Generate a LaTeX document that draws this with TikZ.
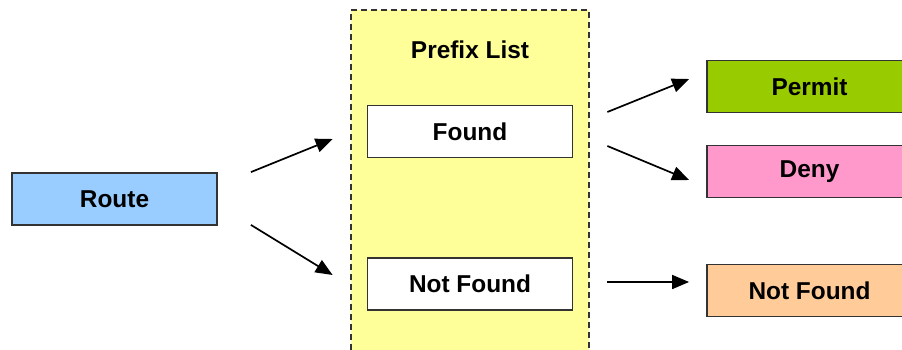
\documentclass[tikz,border=0pt]{standalone}
\usepackage{fontspec}
\setmainfont{Liberation Sans}
\usetikzlibrary{arrows.meta}
\definecolor{routeblue}{HTML}{99CCFF}
\definecolor{listyellow}{HTML}{FFFF99}
\definecolor{permitgreen}{HTML}{99CC00}
\definecolor{denypink}{HTML}{FF99CC}
\definecolor{nfpeach}{HTML}{FFCC99}
\definecolor{boxline}{HTML}{333333}
\tikzset{
    boxnode/.style={draw=boxline,line width=1.8bp,minimum width=205bp,minimum height=52bp,inner sep=0pt,font=\fontsize{24.5}{28}\selectfont\bfseries},
    flow/.style={line width=1.7bp,-{Triangle[length=17bp,width=14bp]}}
}
\begin{document}
\begin{tikzpicture}[x=1bp,y=-1bp]
        \useasboundingbox (0,0) rectangle (902,349);
        \clip (0,0) rectangle (902,349);
        \fill[white] (0,0) rectangle (902,349);
        \node[draw=boxline,dash pattern=on 6bp off 4bp,line width=1.8bp,fill=listyellow,minimum width=238bp,minimum height=350bp,inner sep=0pt] (plist) at (470,185) {};
        \node[font=\fontsize{24.5}{28}\selectfont\bfseries] (ptitle) at (470,50) {Prefix List};
        \node[boxnode,fill=routeblue] (route) at (114.5,199) {Route};
        \node[boxnode,fill=white] (found) at (470,131.5) {Found};
        \node[boxnode,fill=white] (nfin) at (470,284) {Not Found};
        \node[boxnode,fill=permitgreen] (permit) at (809.5,86.5) {Permit};
        \node[boxnode,fill=denypink] (deny) at (809.5,171.5) {Deny};
        \node[boxnode,fill=nfpeach] (nfout) at (809.5,290.5) {Not Found};
        \draw[flow] ([shift={(33,0)}]route.north east) -- ([shift={(-34,7.5)}]found.west);
        \draw[flow] ([shift={(33,-1)}]route.south east) -- ([shift={(-34,-9)}]nfin.west);
        \draw[flow] ([shift={(34,-19.5)}]found.east) -- ([shift={(-17,-7.5)}]permit.west);
        \draw[flow] ([shift={(34,14.5)}]found.east) -- ([shift={(-17,8.5)}]deny.west);
        \draw[flow] ([shift={(34,-2)}]nfin.east) -- ([shift={(-17,-8.5)}]nfout.west);
    \end{tikzpicture}
\end{document}
